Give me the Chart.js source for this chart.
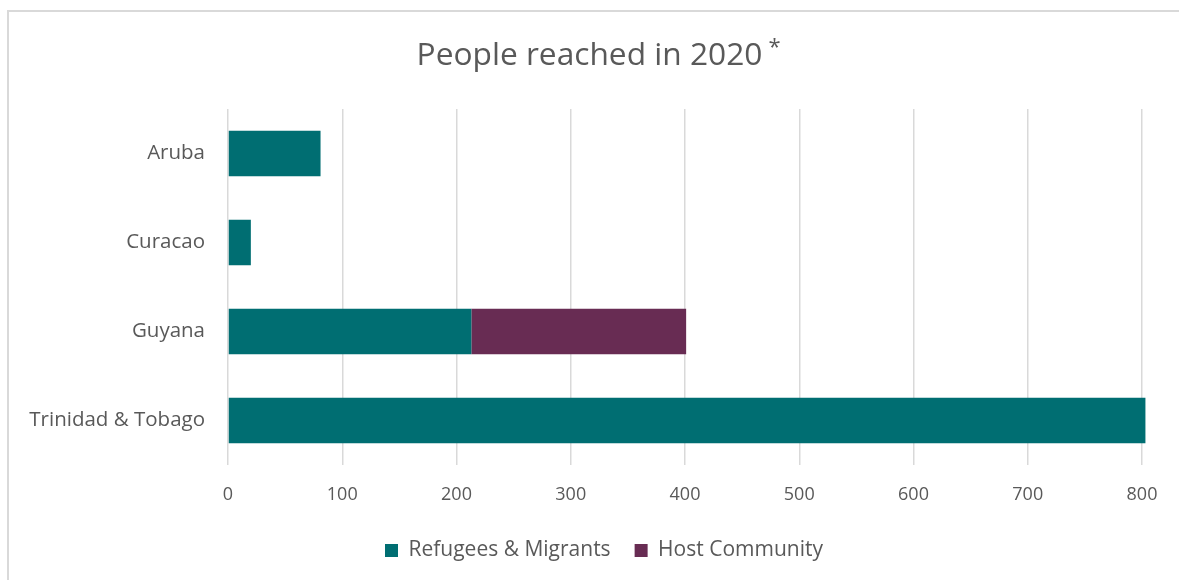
<!DOCTYPE html>
<html>
<head>
<meta charset="utf-8">
<script src="https://cdn.jsdelivr.net/npm/chart.js@4"></script>
<style>
  html, body { margin: 0; padding: 0; background: #fff; overflow: hidden; }
  #frame { position: absolute; left: 7px; top: 10px; width: 1200px; height: 600px; border: 2px solid #d9d9d9; }
  #wrap { position: absolute; left: 0; top: 0; width: 1179px; height: 580px; }
</style>
</head>
<body>
<div id="frame"></div>
<div id="wrap"><canvas id="peopleChart"></canvas></div>
<script>
// Dữ liệu biểu đồ
const countries = ['Aruba', 'Curacao', 'Guyana', 'Trinidad & Tobago'];
const refugeesMigrants = [81, 20, 213, 803];
const hostCommunity = [0, 0, 188, 0];
const xTicks = [0, 100, 200, 300, 400, 500, 600, 700, 800];
const titleText = 'People reached in 2020';

const teal = '#006e72';
const plum = '#682c53';
const textGrey = '#595959';
const fontFamily = '"Open Sans", "DejaVu Sans", sans-serif';

// tiêu đề + dấu * nhỏ (superscript)
const titleWithStar = {
    id: 'titleWithStar',
    afterDraw(chart) {
        const ctx = chart.ctx;
        ctx.save();
        ctx.font = '31.7px ' + fontFamily;
        ctx.fillStyle = textGrey;
        ctx.textBaseline = 'alphabetic';
        ctx.textAlign = 'center';
        const cx = chart.width / 2;
        const w = ctx.measureText(titleText).width;
        ctx.fillText(titleText, cx, 65);
        ctx.textAlign = 'left';
        ctx.textBaseline = 'top';
        ctx.font = '22px ' + fontFamily;
        ctx.fillText('*', cx + w / 2 + 6, 37);
        ctx.restore();
    }
};

// đẩy chú thích sang phải cho giống bản gốc
const legendShift = {
    id: 'legendShift',
    afterLayout(chart) {
        if (!chart.legend) return;
        chart.legend.left += 33;
        chart.legend.right += 33;
    }
};

const ctx = document.getElementById('peopleChart').getContext('2d');
new Chart(ctx, {
    type: 'bar',
    data: {
        labels: countries,
        datasets: [
            { label: 'Refugees & Migrants', data: refugeesMigrants, backgroundColor: teal, clip: false },
            { label: 'Host Community', data: hostCommunity, backgroundColor: plum, clip: false }
        ]
    },
    options: {
        indexAxis: 'y',
        responsive: true,
        maintainAspectRatio: false,
        animation: false,
        layout: { padding: { left: 0, right: 37, top: 109, bottom: 9 } },
        datasets: { bar: { barPercentage: 0.51, categoryPercentage: 1 } },
        plugins: {
            title: { display: false },
            legend: {
                position: 'bottom',
                labels: {
                    color: textGrey,
                    font: { family: fontFamily, size: 21 },
                    boxWidth: 13,
                    boxHeight: 13,
                    padding: 24
                }
            },
            tooltip: { enabled: false }
        },
        scales: {
            x: {
                stacked: true,
                min: 0,
                max: 800,
                afterBuildTicks: (scale) => { scale.ticks = xTicks.map(v => ({ value: v })); },
                afterFit: (scale) => { scale.height = 51; },
                grid: { color: '#d9d9d9', lineWidth: 1.5, drawTicks: false },
                border: { display: false },
                ticks: { color: textGrey, font: { family: fontFamily, size: 18 }, padding: 19 }
            },
            y: {
                stacked: true,
                afterFit: (scale) => { scale.width = 228; },
                grid: { display: false, drawTicks: false },
                border: { display: false },
                ticks: { color: textGrey, font: { family: fontFamily, size: 20.5 }, padding: 23 }
            }
        }
    },
    plugins: [titleWithStar, legendShift]
});
</script>
</body>
</html>
